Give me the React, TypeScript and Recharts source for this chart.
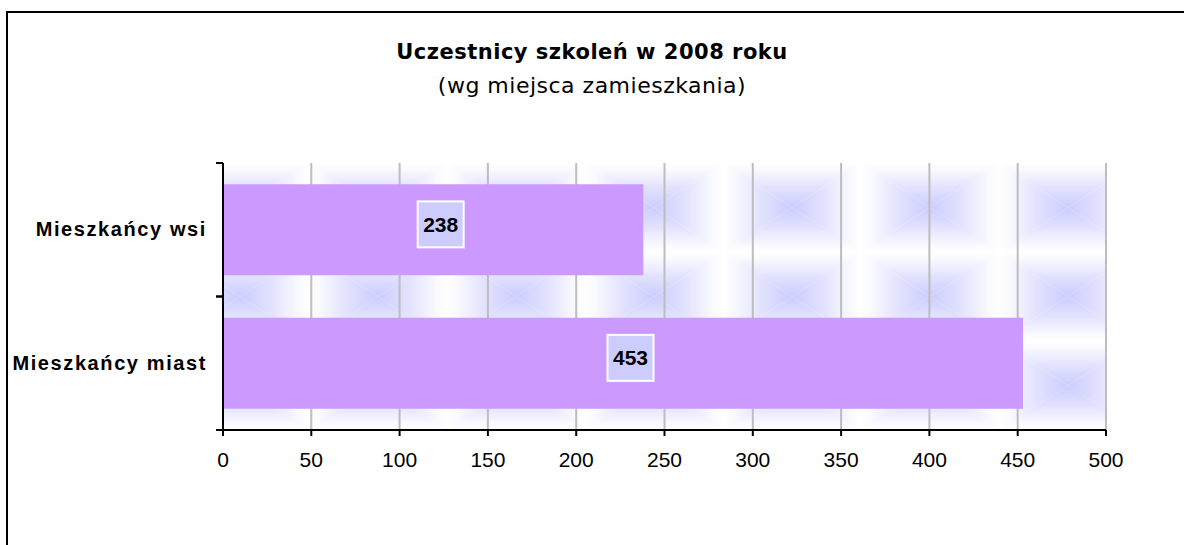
import React from "react";
import { BarChart, Bar, XAxis, YAxis, CartesianGrid, LabelList } from "recharts";

const categories = ["Mieszkańcy wsi", "Mieszkańcy miast"];
const values = [238, 453];
const xTicks = [0, 50, 100, 150, 200, 250, 300, 350, 400, 450, 500];
const titleText = "Uczestnicy szkoleń w 2008 roku";
const subtitleText = "(wg miejsca zamieszkania)";

const data = categories.map((name, i) => ({ name, value: values[i] }));

const W = 1184;
const H = 545;
const PLOT_LEFT = 223;
const PLOT_RIGHT = 1106;
const PLOT_TOP = 163;
const PLOT_BOTTOM = 430;
const HALF_BAND = (PLOT_BOTTOM - PLOT_TOP) / (2 * categories.length);

const TILE_W = 138;
const TILE_H = (PLOT_BOTTOM - PLOT_TOP) / 3;
const BLUE = "#ccccff";

const YTick = (props: any) => {
  const { y, payload } = props;
  return (
    <g>
      <line x1={PLOT_LEFT - 7} x2={PLOT_LEFT} y1={y - HALF_BAND} y2={y - HALF_BAND} stroke="#000" strokeWidth={2} />
      <line x1={PLOT_LEFT - 7} x2={PLOT_LEFT} y1={y + HALF_BAND} y2={y + HALF_BAND} stroke="#000" strokeWidth={2} />
      <text
        x={PLOT_LEFT - 16}
        y={y + 6.5}
        textAnchor="end"
        fontFamily="'Liberation Sans', Arial, sans-serif"
        fontWeight="bold"
        fontSize={20}
        letterSpacing={1.6}
        fill="#000"
      >
        {payload.value}
      </text>
    </g>
  );
};

const ValueLabel = (props: any) => {
  const { x, y, width, height, value } = props;
  const cx = x + width / 2 + 7.5;
  const cy = y + height / 2 - 5.5;
  return (
    <g>
      <rect x={cx - 23} y={cy - 23} width={46} height={46} fill={BLUE} stroke="#fff" strokeWidth={2} />
      <text
        x={cx}
        y={cy + 7.5}
        textAnchor="middle"
        fontFamily="'Liberation Sans', Arial, sans-serif"
        fontWeight="bold"
        fontSize={21}
        fill="#000"
      >
        {value}
      </text>
    </g>
  );
};

const Stops = () => (
  <>
    <stop offset="0" stopColor="#ffffff" />
    <stop offset="0.12" stopColor="#fbfbff" />
    <stop offset="0.55" stopColor="#e2e2ff" />
    <stop offset="1" stopColor={BLUE} />
  </>
);

export default function App() {
  return (
    <div style={{ position: "absolute", left: 0, top: 0, width: W, height: H, background: "#fff" }}>
      <svg width={W} height={H} style={{ position: "absolute", left: 0, top: 0 }}>
        <line x1={7} y1={11} x2={7} y2={H} stroke="#000" strokeWidth={2} />
        <line x1={6} y1={12} x2={W} y2={12} stroke="#000" strokeWidth={2} />
        <text
          x={592}
          y={59}
          textAnchor="middle"
          fontFamily="'DejaVu Sans', Verdana, sans-serif"
          fontWeight="bold"
          fontSize={21}
          letterSpacing={0.5}
          fill="#000"
        >
          {titleText}
        </text>
        <text
          x={592}
          y={93}
          textAnchor="middle"
          fontFamily="'DejaVu Sans', Verdana, sans-serif"
          fontSize={22}
          letterSpacing={0.5}
          fill="#000"
        >
          {subtitleText}
        </text>
      </svg>
      <div style={{ position: "absolute", left: 0, top: 0 }}>
        <BarChart
          width={W}
          height={H}
          data={data}
          layout="vertical"
          margin={{ top: PLOT_TOP, right: W - PLOT_RIGHT, bottom: H - PLOT_BOTTOM - 40, left: 0 }}
          barCategoryGap="16%"
        >
          <defs>
            <linearGradient id="gTop" x1="0" y1="0" x2="0" y2="1">
              <Stops />
            </linearGradient>
            <linearGradient id="gBottom" x1="0" y1="1" x2="0" y2="0">
              <Stops />
            </linearGradient>
            <linearGradient id="gLeft" x1="0" y1="0" x2="1" y2="0">
              <Stops />
            </linearGradient>
            <linearGradient id="gRight" x1="1" y1="0" x2="0" y2="0">
              <Stops />
            </linearGradient>
            <pattern
              id="bgTile"
              patternUnits="userSpaceOnUse"
              x={171}
              y={PLOT_TOP}
              width={TILE_W}
              height={TILE_H}
            >
              <polygon points={`0,0 ${TILE_W},0 ${TILE_W / 2},${TILE_H / 2}`} fill="url(#gTop)" />
              <polygon points={`0,${TILE_H} ${TILE_W},${TILE_H} ${TILE_W / 2},${TILE_H / 2}`} fill="url(#gBottom)" />
              <polygon points={`0,0 0,${TILE_H} ${TILE_W / 2},${TILE_H / 2}`} fill="url(#gLeft)" />
              <polygon points={`${TILE_W},0 ${TILE_W},${TILE_H} ${TILE_W / 2},${TILE_H / 2}`} fill="url(#gRight)" />
            </pattern>
          </defs>
          <CartesianGrid
            horizontal={false}
            vertical={true}
            stroke="#bdbdbd"
            strokeWidth={2}
            fill="url(#bgTile)"
            fillOpacity={1}
          />
          <XAxis
            type="number"
            domain={[0, 500]}
            ticks={xTicks}
            interval={0}
            height={40}
            stroke="#000"
            strokeWidth={2}
            tickSize={6}
            tickMargin={16}
            tick={{ fill: "#000", fontSize: 21, fontFamily: "'Liberation Sans', Arial, sans-serif" }}
          />
          <YAxis
            type="category"
            dataKey="name"
            width={PLOT_LEFT}
            stroke="#000"
            strokeWidth={2}
            tickLine={false}
            tick={<YTick />}
          />
          <Bar dataKey="value" fill="#cc99ff" isAnimationActive={false}>
            <LabelList dataKey="value" content={<ValueLabel />} />
          </Bar>
        </BarChart>
      </div>
    </div>
  );
}
